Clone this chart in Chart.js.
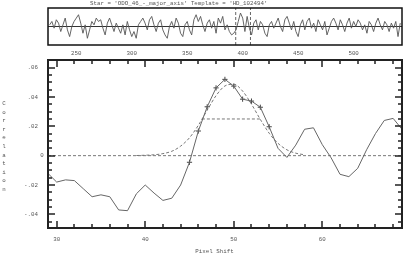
<!DOCTYPE html>
<html>
<head>
<meta charset="utf-8">
<script src="https://cdn.jsdelivr.net/npm/chart.js@4"></script>
<style>
  body { margin: 0; background: #fff; }
  #wrap { position: relative; width: 411px; height: 259px; }
  canvas { position: absolute; left: 0; }
</style>
</head>
<body>
<div id="wrap">
  <canvas id="topChart" width="411" height="60" style="top:0"></canvas>
  <canvas id="mainChart" width="411" height="259" style="top:0"></canvas>
</div>
<script>
// top panel: template-normalised spectrum, sampled every 2 channels from 226
const waveStart = 226;
const waveStep = 2;
const waveValues = [
  0.1, 0.3, -0.1, 0.4, 0.2, -0.3, 0.1, 0.5, -0.2, -0.6,
  0.0, 0.3, 0.5, 0.7, 0.2, -0.4, 0.1, -0.7, -0.2, 0.3,
  0.1, 0.5, 0.3, 0.4, -0.1, -0.5, 0.2, 0.5, 0.1, -0.3,
  0.2, -0.1, -0.4, 0.1, -0.5, 0.3, -0.2, -0.6, -0.3, -0.7,
  0.1, 0.3, 0.5, 0.2, -0.2, 0.4, 0.6, 0.1, -0.3, 0.2,
  0.4, -0.2, -0.5, -0.7, 0.0, 0.3, -0.1, 0.5, 0.2, -0.4,
  -0.6, 0.1, 0.3, -0.2, -0.5, 0.4, 0.7, 0.3, 0.6, 0.1,
  -0.3, 0.2, 0.4, -0.1, 0.3, -0.4, 0.5, 0.2, 0.6, -0.2,
  0.1, -0.3, -0.5, -0.4, -0.2, 0.3, 0.8, 0.5, -0.3, 0.6,
  -0.1, -0.5, 0.2, 0.4, -0.2, 0.3, 0.1, -0.4, -0.6, 0.1,
  0.3, -0.1, 0.2, 0.5, 0.0, -0.3, 0.4, 0.6, 0.2, -0.2,
  0.3, -0.3, -0.6, 0.1, 0.4, -0.2, 0.3, 0.5, -0.1, 0.2,
  -0.3, 0.4, 0.1, -0.2, 0.3, -0.5, -0.1, 0.3, 0.5, 0.2,
  -0.2, 0.4, 0.1, -0.3, 0.2, 0.5, -0.1, 0.3, 0.0, 0.4,
  0.2, -0.2, 0.1, -0.4, 0.3, 0.1, -0.3, 0.2, 0.5, 0.1,
  -0.2, 0.3, 0.1, -0.3, 0.2, -0.1, 0.3, -0.6, 0.2
];
const windowEdges = [393.7, 407];
const waveTicks = [250, 300, 350, 400, 450, 500];

// main panel: cross-correlation against pixel shift
const shifts = [29, 30, 31, 32, 33, 34, 35, 36, 37, 38, 39, 40, 41, 42, 43, 44, 45, 46, 47, 48,
  49, 50, 51, 52, 53, 54, 55, 56, 57, 58, 59, 60, 61, 62, 63, 64, 65, 66, 67, 68, 69];
const correlation = [-0.012, -0.018, -0.0165, -0.017, -0.0225, -0.028, -0.0267, -0.028, -0.037, -0.0375,
  -0.026, -0.020, -0.0255, -0.0305, -0.029, -0.020, -0.0045, 0.0168, 0.0333, 0.0462,
  0.052, 0.0474, 0.0385, 0.0372, 0.033, 0.0197, 0.005, -0.0012, 0.0072, 0.018,
  0.019, 0.0075, -0.0015, -0.0127, -0.0143, -0.0086, 0.004, 0.015, 0.024, 0.0254, 0.018];
const fitShifts = [45, 46, 47, 48, 49, 50, 51, 52, 53, 54];
const gaussShifts = [39, 40, 41, 42, 43, 44, 45, 46, 47, 48, 49, 50, 51, 52, 53, 54, 55, 56, 57, 58];
const gaussFit = [0.0001, 0.0003, 0.0006, 0.0014, 0.003, 0.0065, 0.0122, 0.0207, 0.031, 0.0409,
  0.0475, 0.0487, 0.044, 0.0351, 0.0247, 0.0153, 0.0084, 0.004, 0.0017, 0.0006];
const halfMax = { from: 46.4, to: 53.05, level: 0.025 };
const xTicks = [30, 40, 50, 60];
const yTicks = [0.06, 0.04, 0.02, 0, -0.02, -0.04];
const yTickLabels = ['.06', '.04', '.02', '0', '-.02', '-.04'];

const FONT = '5.8px "Liberation Mono"';
const TEXT = '#555';

// ---- top panel ----
const wavePoints = waveValues.map((v, i) => ({ x: waveStart + i * waveStep, y: v }));
const topFrame = {
  id: 'topFrame',
  afterDraw(chart) {
    const { ctx, chartArea: a, scales: { x } } = chart;
    ctx.save();
    ctx.strokeStyle = '#111';
    ctx.lineWidth = 1.5;
    ctx.strokeRect(a.left, a.top, a.right - a.left, a.bottom - a.top);
    ctx.fillStyle = TEXT;
    ctx.font = FONT;
    ctx.textAlign = 'center';
    ctx.textBaseline = 'middle';
    waveTicks.forEach(t => ctx.fillText(String(t), x.getPixelForValue(t), 53.5));
    ctx.textAlign = 'left';
    ctx.fillText("Star = 'ODO_46_-_major_axis' Template = 'HD_102494'", 90, 3.5);
    ctx.restore();
  }
};

new Chart(document.getElementById('topChart'), {
  type: 'line',
  data: {
    datasets: [
      { data: wavePoints, borderColor: '#555', borderWidth: 0.9, pointRadius: 0, tension: 0 },
      { data: [{ x: 224.5, y: 0 }, { x: 543.6, y: 0 }], borderColor: '#333', borderWidth: 1, pointRadius: 0 },
      ...windowEdges.map(e => ({
        data: [{ x: e, y: -1.1 }, { x: e, y: 1.1 }],
        borderColor: '#555', borderWidth: 0.9, borderDash: [3, 2], pointRadius: 0
      }))
    ]
  },
  options: {
    responsive: false,
    animation: false,
    layout: { padding: { left: 48, right: 9, top: 8, bottom: 15 } },
    plugins: { legend: { display: false }, tooltip: { enabled: false } },
    scales: {
      x: { type: 'linear', min: 224.5, max: 543.6, display: false },
      y: { min: -1.1, max: 1.1, display: false }
    }
  },
  plugins: [topFrame]
});

// ---- main panel ----
const corrPoints = shifts.map((s, i) => ({ x: s, y: correlation[i] }));
const fitPoints = fitShifts.map(s => ({ x: s, y: correlation[shifts.indexOf(s)] }));
const gaussPoints = gaussShifts.map((s, i) => ({ x: s, y: gaussFit[i] }));

const mainFrame = {
  id: 'mainFrame',
  afterDraw(chart) {
    const { ctx, chartArea: a, scales: { x, y } } = chart;
    ctx.save();
    ctx.strokeStyle = '#222';
    ctx.lineWidth = 1.5;
    // x ticks, every 2 px shift, long on the decades
    for (let s = 30; s <= 68; s += 2) {
      const px = Math.round(x.getPixelForValue(s));
      const len = s % 10 === 0 ? 7 : 4;
      ctx.beginPath();
      ctx.moveTo(px, a.bottom); ctx.lineTo(px, a.bottom - len);
      ctx.moveTo(px, a.top); ctx.lineTo(px, a.top + len);
      ctx.stroke();
    }
    // y ticks every 0.005, long every 0.02
    for (let k = -9; k <= 13; k++) {
      const py = Math.round(y.getPixelForValue(k * 0.005));
      const len = k % 4 === 0 ? 7 : 4;
      ctx.beginPath();
      ctx.moveTo(a.left, py); ctx.lineTo(a.left + len, py);
      ctx.moveTo(a.right, py); ctx.lineTo(a.right - len, py);
      ctx.stroke();
    }
    ctx.lineWidth = 2;
    ctx.strokeRect(a.left, a.top, a.right - a.left, a.bottom - a.top);

    ctx.fillStyle = TEXT;
    ctx.font = FONT;
    ctx.textBaseline = 'middle';
    ctx.textAlign = 'center';
    xTicks.forEach(t => ctx.fillText(String(t), x.getPixelForValue(t), 239));
    yTicks.forEach((t, i) => {
      const py = y.getPixelForValue(t);
      if (t === 0) {
        ctx.textAlign = 'center';
        ctx.fillText(yTickLabels[i], 42, py);
      } else {
        ctx.textAlign = 'right';
        ctx.fillText(yTickLabels[i], 38, py);
      }
    });
    ctx.textAlign = 'center';
    ctx.fillText('Pixel Shift', 214.5, 251);
    'Correlation'.split('').forEach((c, i) => ctx.fillText(c, 4, 103.5 + i * 8.6));
    ctx.restore();
  }
};

new Chart(document.getElementById('mainChart'), {
  type: 'line',
  data: {
    datasets: [
      { data: corrPoints, borderColor: '#666', borderWidth: 1, pointRadius: 0, tension: 0 },
      {
        data: fitPoints, showLine: false, pointStyle: 'cross', pointRadius: 2.6,
        pointBorderColor: '#444', pointBorderWidth: 1
      },
      {
        data: gaussPoints, borderColor: '#777', borderWidth: 1, borderDash: [3, 2],
        pointRadius: 0, cubicInterpolationMode: 'monotone'
      },
      {
        data: [{ x: 29.02, y: 0 }, { x: 69, y: 0 }],
        borderColor: '#777', borderWidth: 1, borderDash: [3, 2], pointRadius: 0
      },
      {
        data: [{ x: halfMax.from, y: halfMax.level }, { x: halfMax.to, y: halfMax.level }],
        borderColor: '#777', borderWidth: 1, borderDash: [3, 2], pointRadius: 0
      }
    ]
  },
  options: {
    responsive: false,
    animation: false,
    layout: { padding: { left: 48, right: 9, top: 60, bottom: 31 } },
    plugins: { legend: { display: false }, tooltip: { enabled: false } },
    scales: {
      x: { type: 'linear', min: 29.02, max: 69.0, display: false },
      y: { min: -0.0493, max: 0.0652, display: false }
    }
  },
  plugins: [mainFrame]
});
</script>
</body>
</html>
